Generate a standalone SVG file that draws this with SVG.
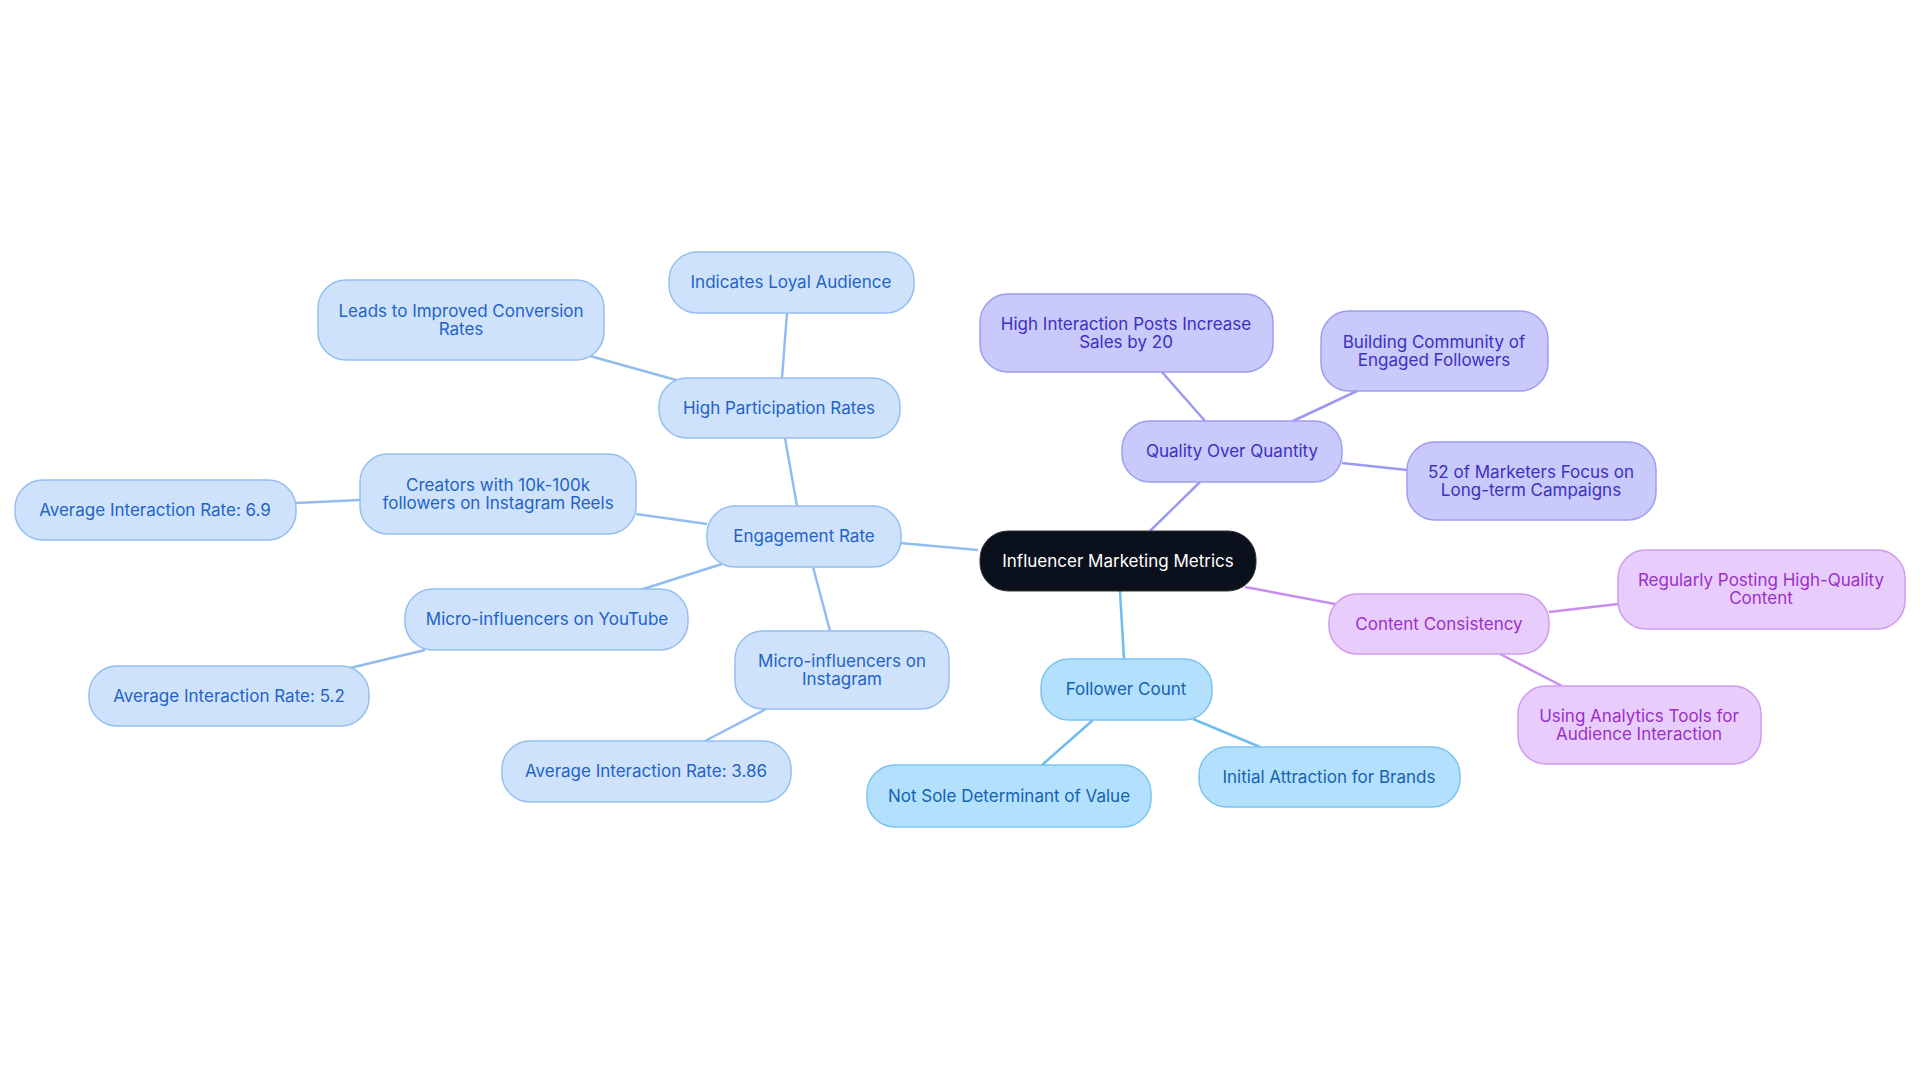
<svg xmlns="http://www.w3.org/2000/svg" width="1920" height="1083" viewBox="0 0 1920 1083">
<style>
text{font-family:Inter,"Noto Sans",sans-serif;font-size:17px;text-anchor:middle;dominant-baseline:central}
.e rect{fill:#cfe2fc;stroke:#94bff0;stroke-width:1.5}.e text{fill:#1f63c6}
.f rect{fill:#b3e0fd;stroke:#7cc4f0;stroke-width:1.5}.f text{fill:#1563b0}
.q rect{fill:#c9c9fc;stroke:#9d9df4;stroke-width:1.5}.q text{fill:#3b30c0}
.c rect{fill:#e8cdfc;stroke:#cf9af3;stroke-width:1.5}.c text{fill:#9a30c8}
#edges line{stroke-width:2.5}
.le{stroke:#92bdf0}.lf{stroke:#6fbcee}.lq{stroke:#9a9af2}.lc{stroke:#c88df0}
</style>
<rect width="1920" height="1083" fill="#fff"/>
<g id="edges">
<line class="le" x1="843" y1="561" x2="804" y2="536"/>
<line class="le" x1="978" y1="550" x2="900" y2="543"/>
<line class="le" x1="797" y1="506" x2="785" y2="438"/>
<line class="le" x1="782" y1="378" x2="787" y2="313"/>
<line class="le" x1="676" y1="380" x2="590" y2="356"/>
<line class="le" x1="707" y1="524" x2="636" y2="514"/>
<line class="le" x1="360" y1="500" x2="296" y2="503"/>
<line class="le" x1="722" y1="564" x2="640" y2="590"/>
<line class="le" x1="425" y1="650" x2="350" y2="668"/>
<line class="le" x1="813" y1="567" x2="830" y2="631"/>
<line class="le" x1="766" y1="709" x2="705" y2="741"/>
<line class="lf" x1="1120" y1="591" x2="1124" y2="659"/>
<line class="lf" x1="1093" y1="720" x2="1042" y2="765"/>
<line class="lf" x1="1193" y1="719" x2="1260" y2="747"/>
<line class="lq" x1="1150" y1="531" x2="1200" y2="482"/>
<line class="lq" x1="1205" y1="421" x2="1162" y2="372"/>
<line class="lq" x1="1293" y1="421" x2="1357" y2="391"/>
<line class="lq" x1="1342" y1="463" x2="1407" y2="470"/>
<line class="lc" x1="1245" y1="587" x2="1335" y2="604"/>
<line class="lc" x1="1549" y1="612" x2="1618" y2="604"/>
<line class="lc" x1="1500" y1="654" x2="1562" y2="686"/>
</g>
<g id="center"><rect x="980" y="531" width="276" height="60" rx="28" fill="#0b111c" stroke="#333" stroke-width="1"/><text x="1118" y="561" fill="#fff">Influencer Marketing Metrics</text></g>
<g id="engagement" class="e"><rect x="707" y="506" width="194" height="61" rx="28"/><text x="804" y="536">Engagement Rate</text></g>
<g id="participation" class="e"><rect x="659" y="378" width="241" height="60" rx="28"/><text x="779" y="408">High Participation Rates</text></g>
<g id="loyal" class="e"><rect x="669" y="252" width="245" height="61" rx="28"/><text x="791" y="282">Indicates Loyal Audience</text></g>
<g id="conversion" class="e"><rect x="318" y="280" width="286" height="80" rx="28"/><text x="461" y="311">Leads to Improved Conversion</text><text x="461" y="329">Rates</text></g>
<g id="creators" class="e"><rect x="360" y="454" width="276" height="80" rx="28"/><text x="498" y="485">Creators with 10k-100k</text><text x="498" y="503">followers on Instagram Reels</text></g>
<g id="avg69" class="e"><rect x="15" y="480" width="281" height="60" rx="28"/><text x="155" y="510">Average Interaction Rate: 6.9</text></g>
<g id="youtube" class="e"><rect x="405" y="589" width="283" height="61" rx="28"/><text x="547" y="619">Micro-influencers on YouTube</text></g>
<g id="avg52" class="e"><rect x="89" y="666" width="280" height="60" rx="28"/><text x="229" y="696">Average Interaction Rate: 5.2</text></g>
<g id="instagram" class="e"><rect x="735" y="631" width="214" height="78" rx="28"/><text x="842" y="661">Micro-influencers on</text><text x="842" y="679">Instagram</text></g>
<g id="avg386" class="e"><rect x="502" y="741" width="289" height="61" rx="28"/><text x="646" y="771">Average Interaction Rate: 3.86</text></g>
<g id="follower" class="f"><rect x="1041" y="659" width="171" height="61" rx="28"/><text x="1126" y="689">Follower Count</text></g>
<g id="notsole" class="f"><rect x="867" y="765" width="284" height="62" rx="28"/><text x="1009" y="796">Not Sole Determinant of Value</text></g>
<g id="initial" class="f"><rect x="1199" y="747" width="261" height="60" rx="28"/><text x="1329" y="777">Initial Attraction for Brands</text></g>
<g id="quality" class="q"><rect x="1122" y="421" width="220" height="61" rx="28"/><text x="1232" y="451">Quality Over Quantity</text></g>
<g id="sales" class="q"><rect x="980" y="294" width="293" height="78" rx="28"/><text x="1126" y="324">High Interaction Posts Increase</text><text x="1126" y="342">Sales by 20</text></g>
<g id="community" class="q"><rect x="1321" y="311" width="227" height="80" rx="28"/><text x="1434" y="342">Building Community of</text><text x="1434" y="360">Engaged Followers</text></g>
<g id="marketers" class="q"><rect x="1407" y="442" width="249" height="78" rx="28"/><text x="1531" y="472">52 of Marketers Focus on</text><text x="1531" y="490">Long-term Campaigns</text></g>
<g id="consistency" class="c"><rect x="1329" y="594" width="220" height="60" rx="28"/><text x="1439" y="624">Content Consistency</text></g>
<g id="posting" class="c"><rect x="1618" y="550" width="287" height="79" rx="28"/><text x="1761" y="580">Regularly Posting High-Quality</text><text x="1761" y="598">Content</text></g>
<g id="analytics" class="c"><rect x="1518" y="686" width="243" height="78" rx="28"/><text x="1639" y="716">Using Analytics Tools for</text><text x="1639" y="734">Audience Interaction</text></g>
</svg>
